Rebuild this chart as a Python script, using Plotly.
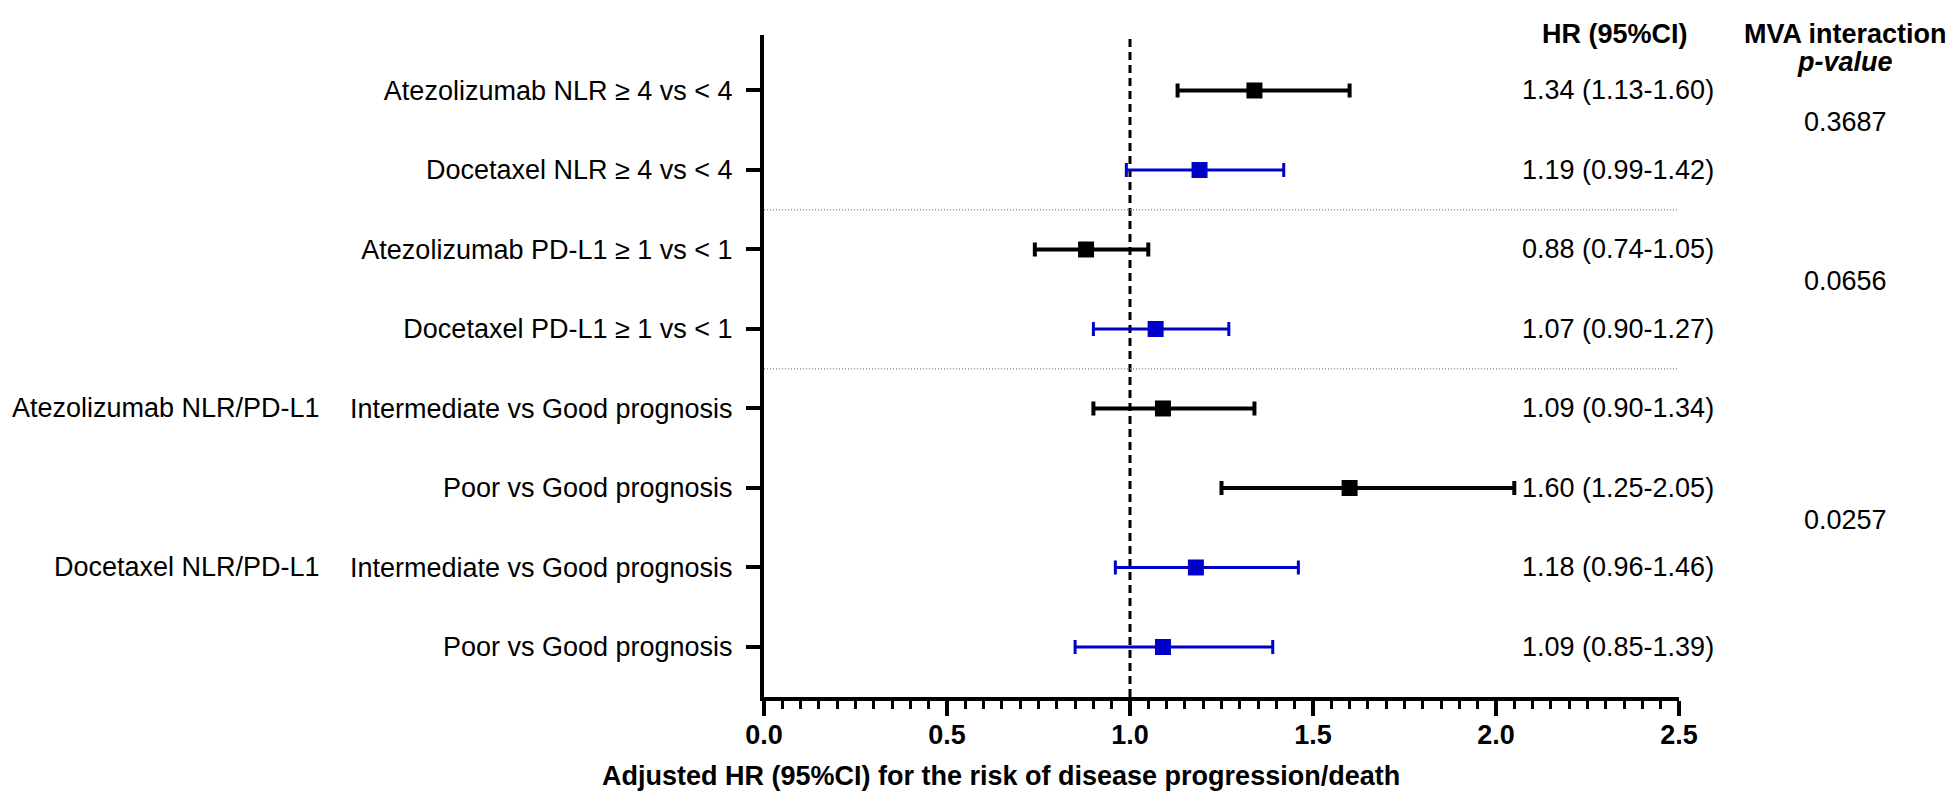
import plotly.graph_objects as go

# ---------------- data ----------------
row_labels = [
    "Atezolizumab NLR ≥ 4 vs < 4",
    "Docetaxel NLR ≥ 4 vs < 4",
    "Atezolizumab PD-L1 ≥ 1 vs < 1",
    "Docetaxel PD-L1 ≥ 1 vs < 1",
    "Intermediate vs Good prognosis",
    "Poor vs Good prognosis",
    "Intermediate vs Good prognosis",
    "Poor vs Good prognosis",
]
treatment = ["Atezolizumab", "Docetaxel", "Atezolizumab", "Docetaxel",
             "Atezolizumab", "Atezolizumab", "Docetaxel", "Docetaxel"]
hr = [1.34, 1.19, 0.88, 1.07, 1.09, 1.60, 1.18, 1.09]
ci_low = [1.13, 0.99, 0.74, 0.90, 0.90, 1.25, 0.96, 0.85]
ci_high = [1.60, 1.42, 1.05, 1.27, 1.34, 2.05, 1.46, 1.39]

group_labels = ["Atezolizumab NLR/PD-L1", "Docetaxel NLR/PD-L1"]
group_label_rows = [4, 6]

p_values = ["0.3687", "0.0656", "0.0257"]
p_value_rows = [(0, 1), (2, 3), (4, 7)]
separator_after_rows = [1, 3]

x_ticks = [0.0, 0.5, 1.0, 1.5, 2.0, 2.5]

# ---------------- layout geometry ----------------
W, H = 1954, 799
OFF = 8  # default page body margin offsets the figure
L, R, T, B = 756, 283, 27, 110
PW, PH = W - L - R, H - T - B
FONT = "Liberation Sans, Arial, sans-serif"
FS = 27
BLACK = "#000000"
BLUE = "#0000C8"
colors = {"Atezolizumab": BLACK, "Docetaxel": BLUE}
n = len(row_labels)
ypos = [n - i for i in range(n)]  # row 0 at top


def px_x(px):
    return (px - OFF - L) / PW


def px_y(py):
    return (H - B - (py - OFF)) / PH


fig = go.Figure()
for trt, width in (("Atezolizumab", 4), ("Docetaxel", 3)):
    idx = [i for i in range(n) if treatment[i] == trt]
    fig.add_trace(go.Scatter(
        x=[hr[i] for i in idx],
        y=[ypos[i] for i in idx],
        mode="markers",
        marker=dict(symbol="square", size=16, color=colors[trt]),
        error_x=dict(type="data", symmetric=False,
                     array=[ci_high[i] - hr[i] for i in idx],
                     arrayminus=[hr[i] - ci_low[i] for i in idx],
                     color=colors[trt], thickness=width, width=7),
        showlegend=False, name=trt,
    ))

shapes = [dict(type="line", xref="x", yref="paper", x0=1, x1=1, y0=0, y1=1,
               line=dict(color=BLACK, width=3, dash="8px,5px"), layer="below")]
for r in separator_after_rows:
    yv = ypos[r] - 0.5
    shapes.append(dict(type="line", xref="x", yref="y", x0=0, x1=2.5, y0=yv, y1=yv,
                       line=dict(color="#9a9a9a", width=1.5, dash="1px,2px"), layer="below"))

ann = []
# HR text column
for i in range(n):
    ann.append(dict(xref="paper", yref="y", x=px_x(1716), y=ypos[i],
                    xanchor="right", yanchor="middle", showarrow=False,
                    text=f"{hr[i]:.2f} ({ci_low[i]:.2f}-{ci_high[i]:.2f})",
                    font=dict(family=FONT, size=FS, color=BLACK)))
# group labels
for g, r in zip(group_labels, group_label_rows):
    ann.append(dict(xref="paper", yref="y", x=px_x(322), y=ypos[r],
                    xanchor="right", yanchor="middle", showarrow=False,
                    text=g, font=dict(family=FONT, size=FS, color=BLACK)))
# p-values
for p, (a, b) in zip(p_values, p_value_rows):
    yv = (ypos[a] + ypos[b]) / 2 + 0.1
    ann.append(dict(xref="paper", yref="y", x=px_x(1845), y=yv,
                    xanchor="center", yanchor="middle", showarrow=False,
                    text=p, font=dict(family=FONT, size=FS, color=BLACK)))
# headers
ann.append(dict(xref="paper", yref="paper", x=px_x(1615), y=px_y(34),
                xanchor="center", yanchor="middle", showarrow=False,
                text="<b>HR (95%CI)</b>", font=dict(family=FONT, size=FS, color=BLACK)))
ann.append(dict(xref="paper", yref="paper", x=px_x(1845), y=px_y(34),
                xanchor="center", yanchor="middle", showarrow=False,
                text="<b>MVA interaction</b>", font=dict(family=FONT, size=FS, color=BLACK)))
ann.append(dict(xref="paper", yref="paper", x=px_x(1845), y=px_y(62),
                xanchor="center", yanchor="middle", showarrow=False,
                text="<b><i>p-value</i></b>", font=dict(family=FONT, size=FS, color=BLACK)))
# x axis title
ann.append(dict(xref="paper", yref="paper", x=px_x(1001), y=px_y(776),
                xanchor="center", yanchor="middle", showarrow=False,
                text="<b>Adjusted HR (95%CI) for the risk of disease progression/death</b>",
                font=dict(family=FONT, size=FS, color=BLACK)))

fig.update_layout(
    width=W, height=H,
    margin=dict(l=L, r=R, t=T, b=B, pad=0),
    paper_bgcolor="white", plot_bgcolor="white",
    shapes=shapes, annotations=ann,
    font=dict(family=FONT, size=FS, color=BLACK),
)
fig.update_xaxes(
    range=[0, 2.5], tickvals=x_ticks, ticktext=[f"{v:.1f}" for v in x_ticks],
    automargin=False,
    showgrid=False, zeroline=False, showline=True, linecolor=BLACK, linewidth=4,
    ticks="outside", ticklen=15, tickwidth=4, tickcolor=BLACK,
    ticklabelstandoff=-4,
    tickfont=dict(family=FONT, size=FS, color=BLACK, weight="bold"),
    minor=dict(dtick=0.05, ticks="outside", ticklen=8, tickwidth=3, tickcolor=BLACK, showgrid=False),
)
fig.update_yaxes(
    range=[0.371, 8.698], tickvals=ypos, ticktext=row_labels,
    automargin=False,
    showgrid=False, zeroline=False, showline=True, linecolor=BLACK, linewidth=4,
    ticks="outside", ticklen=14, tickwidth=4, tickcolor=BLACK,
    ticklabelstandoff=8,
    tickfont=dict(family=FONT, size=FS, color=BLACK),
)

fig.write_html("out.html")
